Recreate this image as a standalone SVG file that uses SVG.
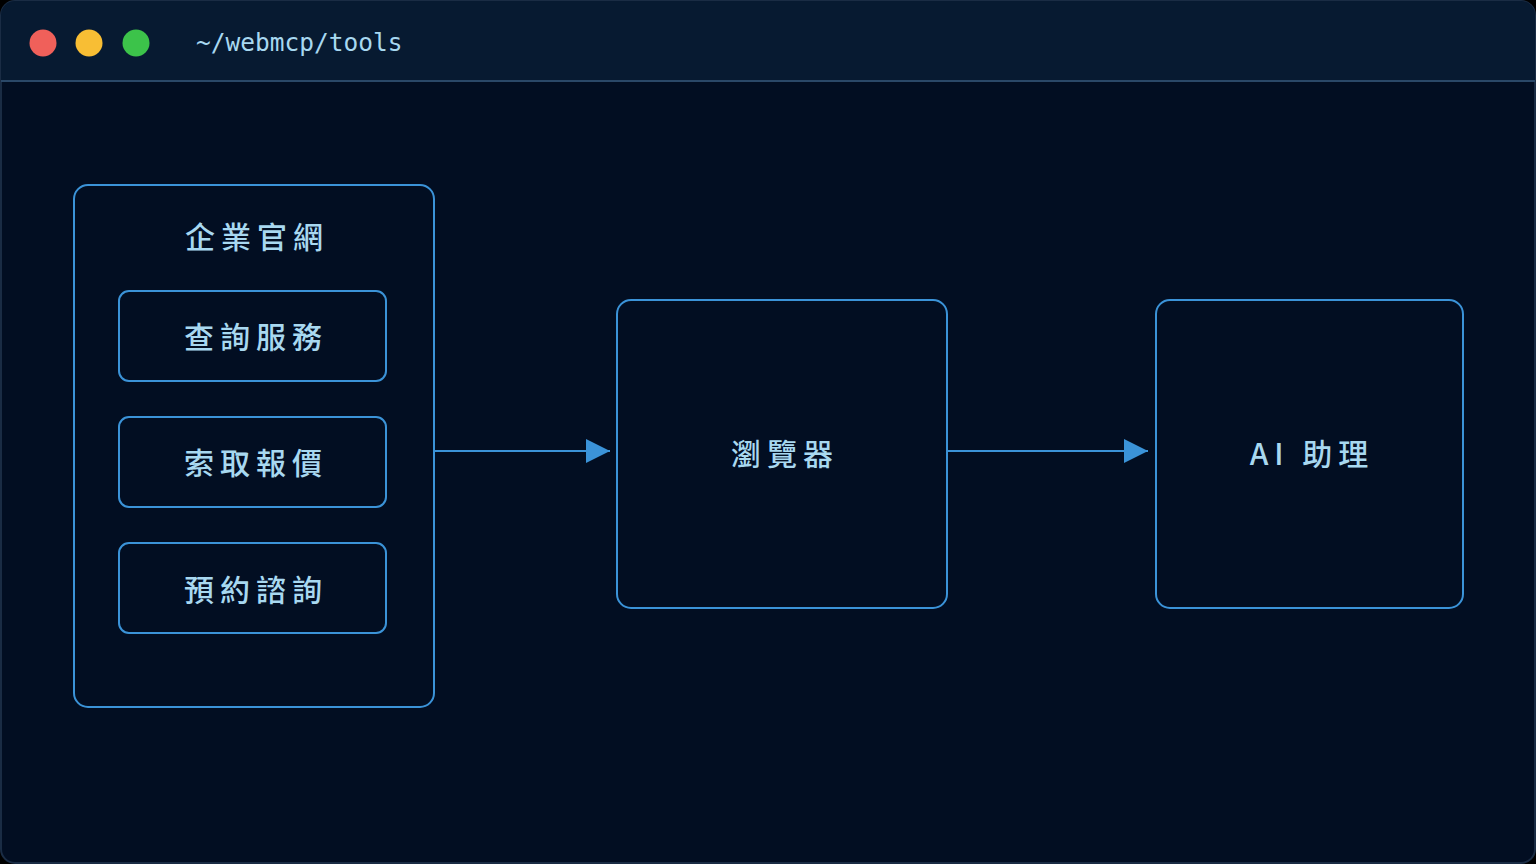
<svg xmlns="http://www.w3.org/2000/svg" width="1536" height="864" viewBox="0 0 1536 864">
<defs>
<style>
.box{fill:none;stroke:#3b93d8;stroke-width:2}
.t{font-family:"Noto Sans CJK TC","Noto Sans",sans-serif;font-size:30px;fill:#a8d8f0;text-anchor:middle;letter-spacing:6px;font-weight:500}
.c{stroke:#3b93d8;stroke-width:2;fill:none}
</style>
<marker id="ah" viewBox="0 0 10 10" refX="10" refY="5" markerWidth="24" markerHeight="24" markerUnits="userSpaceOnUse" orient="auto"><path d="M0,0L10,5L0,10z" fill="#3b93d8"/></marker>
</defs>
<rect width="1536" height="864" fill="#000"/>
<rect x="1" y="1" width="1534" height="862" rx="14" fill="#020e22" stroke="#1a2c44" stroke-width="2"/>
<path d="M1,81H1535V15a14,14 0 0 0 -14,-14H15a14,14 0 0 0 -14,14z" fill="#071a31"/>
<line x1="1" y1="81" x2="1535" y2="81" stroke="#2a4868" stroke-width="2"/>
<circle cx="43" cy="43" r="13.5" fill="#f0605a"/>
<circle cx="89" cy="43" r="13.5" fill="#f8be34"/>
<circle cx="136" cy="43" r="13.5" fill="#3cc34a"/>
<text x="196" y="51" font-family="DejaVu Sans Mono,monospace" font-size="24.5" fill="#a8d8f0">~/webmcp/tools</text>
<g id="site"><rect class="box" x="74" y="185" width="360" height="522" rx="14"/><text class="t" x="257" y="248">企業官網</text></g>
<g id="s1"><rect class="box" x="119" y="291" width="267" height="90" rx="10"/><text class="t" x="256" y="348">查詢服務</text></g>
<g id="s2"><rect class="box" x="119" y="417" width="267" height="90" rx="10"/><text class="t" x="256" y="474">索取報價</text></g>
<g id="s3"><rect class="box" x="119" y="543" width="267" height="90" rx="10"/><text class="t" x="256" y="601">預約諮詢</text></g>
<g id="browser"><rect class="box" x="617" y="300" width="330" height="308" rx="14"/><text class="t" x="785" y="465">瀏覽器</text></g>
<g id="ai"><rect class="box" x="1156" y="300" width="307" height="308" rx="14"/><text class="t" x="1312" y="465" font-family="DejaVu Sans Mono,Noto Sans CJK TC,monospace">AI 助理</text></g>
<g id="connectors">
<line class="c" x1="435" y1="451" x2="610" y2="451" marker-end="url(#ah)"/>
<line class="c" x1="948" y1="451" x2="1148" y2="451" marker-end="url(#ah)"/>
</g>
</svg>
